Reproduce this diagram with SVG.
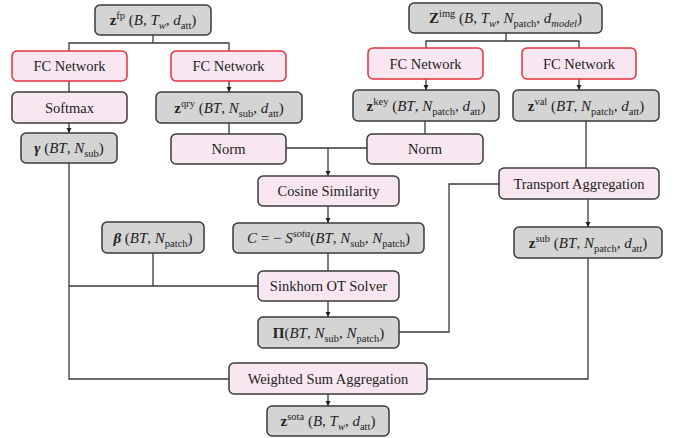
<svg xmlns="http://www.w3.org/2000/svg" width="678" height="438" viewBox="0 0 678 438">
<style>
.g{fill:#d4d4d4;stroke:#3a3a3a;stroke-width:1.5}
.p{fill:#f8e7f1;stroke:#3a3a3a;stroke-width:1.5}
.r{fill:#f8e7f1;stroke:#e8303a;stroke-width:1.5}
.c{fill:none;stroke:#3a3a3a;stroke-width:1.3}
</style>
<defs>
<marker id="ah" markerWidth="6" markerHeight="6" refX="5" refY="3" orient="auto" markerUnits="userSpaceOnUse">
<path d="M0,0.5 L5,3 L0,5.5 Z" fill="#222"/>
</marker>
</defs>
<g id="connectors">
<path class="c" d="M153 35 V43 M69 51 V43 H229 V51"/>
<path class="c" d="M69 81 V92"/>
<path class="c" d="M229 81 V92" marker-end="url(#ah)"/>
<path class="c" d="M69 123 V133" marker-end="url(#ah)"/>
<path class="c" d="M229 123 V134"/>
<path class="c" d="M506 33 V41 M426 48 V41 H579 V48"/>
<path class="c" d="M426 79 V90" marker-end="url(#ah)"/>
<path class="c" d="M579 79 V90" marker-end="url(#ah)"/>
<path class="c" d="M425 121 V134"/>
<path class="c" d="M286 148 H367"/>
<path class="c" d="M328 148 V176" marker-end="url(#ah)"/>
<path class="c" d="M586 121 V168"/>
<path class="c" d="M328 206 V223" marker-end="url(#ah)"/>
<path class="c" d="M328 253 V271"/>
<path class="c" d="M328 301 V317" marker-end="url(#ah)"/>
<path class="c" d="M153 253 V286 M69 286 H258"/>
<path class="c" d="M69 163 V379 H229"/>
<path class="c" d="M399 332 H449 V184 H499"/>
<path class="c" d="M588 199 V227" marker-end="url(#ah)"/>
<path class="c" d="M588 258 V379 H427"/>
<path class="c" d="M328 394 V406" marker-end="url(#ah)"/>
</g>
<g id="zfp">
<rect class="g" x="95" y="5" width="116" height="30" rx="5"/>
<text font-family="Liberation Serif, Times New Roman, serif" font-weight="400" font-size="15" fill="#222" text-anchor="middle" x="153" y="25"><tspan font-weight="bold">z</tspan><tspan font-size="10.5" dy="-6">fp</tspan><tspan dy="6"> (</tspan><tspan font-style="italic">B</tspan>, <tspan font-style="italic">T</tspan><tspan font-size="10.5" font-style="italic" dy="4">w</tspan><tspan dy="-4">, </tspan><tspan font-style="italic">d</tspan><tspan font-size="10.5" dy="4">att</tspan><tspan dy="-4">)</tspan></text>
</g>
<g id="zimg">
<rect class="g" x="409" y="3" width="193" height="30" rx="5"/>
<text font-family="Liberation Serif, Times New Roman, serif" font-weight="400" font-size="15" fill="#222" text-anchor="middle" x="505.5" y="23"><tspan font-weight="bold">Z</tspan><tspan font-size="10.5" dy="-6">img</tspan><tspan dy="6"> (</tspan><tspan font-style="italic">B</tspan>, <tspan font-style="italic">T</tspan><tspan font-size="10.5" font-style="italic" dy="4">w</tspan><tspan dy="-4">, </tspan><tspan font-style="italic">N</tspan><tspan font-size="10.5" dy="4">patch</tspan><tspan dy="-4">, </tspan><tspan font-style="italic">d</tspan><tspan font-size="10.5" font-style="italic" dy="4">model</tspan><tspan dy="-4">)</tspan></text>
</g>
<g id="fc1">
<rect class="r" x="12" y="51" width="115" height="30" rx="5"/>
<text font-family="Liberation Serif, Times New Roman, serif" font-weight="400" font-size="14.5" fill="#222" text-anchor="middle" x="69.5" y="71">FC Network</text>
</g>
<g id="fc2">
<rect class="r" x="171" y="51" width="115" height="30" rx="5"/>
<text font-family="Liberation Serif, Times New Roman, serif" font-weight="400" font-size="14.5" fill="#222" text-anchor="middle" x="228.5" y="71">FC Network</text>
</g>
<g id="fc3">
<rect class="r" x="368" y="48" width="115" height="31" rx="5"/>
<text font-family="Liberation Serif, Times New Roman, serif" font-weight="400" font-size="14.5" fill="#222" text-anchor="middle" x="425.5" y="68.5">FC Network</text>
</g>
<g id="fc4">
<rect class="r" x="522" y="48" width="114" height="31" rx="5"/>
<text font-family="Liberation Serif, Times New Roman, serif" font-weight="400" font-size="14.5" fill="#222" text-anchor="middle" x="579" y="68.5">FC Network</text>
</g>
<g id="softmax">
<rect class="p" x="12" y="92" width="115" height="31" rx="5"/>
<text font-family="Liberation Serif, Times New Roman, serif" font-weight="400" font-size="14.5" fill="#222" text-anchor="middle" x="69.5" y="112.5">Softmax</text>
</g>
<g id="zqry">
<rect class="g" x="156" y="92" width="146" height="31" rx="5"/>
<text font-family="Liberation Serif, Times New Roman, serif" font-weight="400" font-size="15" fill="#222" text-anchor="middle" x="229" y="112.5"><tspan font-weight="bold">z</tspan><tspan font-size="10.5" dy="-6">qry</tspan><tspan dy="6"> (</tspan><tspan font-style="italic">BT</tspan>, <tspan font-style="italic">N</tspan><tspan font-size="10.5" dy="4">sub</tspan><tspan dy="-4">, </tspan><tspan font-style="italic">d</tspan><tspan font-size="10.5" dy="4">att</tspan><tspan dy="-4">)</tspan></text>
</g>
<g id="zkey">
<rect class="g" x="353" y="90" width="146" height="31" rx="5"/>
<text font-family="Liberation Serif, Times New Roman, serif" font-weight="400" font-size="15" fill="#222" text-anchor="middle" x="426" y="110.5"><tspan font-weight="bold">z</tspan><tspan font-size="10.5" dy="-6">key</tspan><tspan dy="6"> (</tspan><tspan font-style="italic">BT</tspan>, <tspan font-style="italic">N</tspan><tspan font-size="10.5" dy="4">patch</tspan><tspan dy="-4">, </tspan><tspan font-style="italic">d</tspan><tspan font-size="10.5" dy="4">att</tspan><tspan dy="-4">)</tspan></text>
</g>
<g id="zval">
<rect class="g" x="513" y="90" width="146" height="31" rx="5"/>
<text font-family="Liberation Serif, Times New Roman, serif" font-weight="400" font-size="15" fill="#222" text-anchor="middle" x="586" y="110.5"><tspan font-weight="bold">z</tspan><tspan font-size="10.5" dy="-6">val</tspan><tspan dy="6"> (</tspan><tspan font-style="italic">BT</tspan>, <tspan font-style="italic">N</tspan><tspan font-size="10.5" dy="4">patch</tspan><tspan dy="-4">, </tspan><tspan font-style="italic">d</tspan><tspan font-size="10.5" dy="4">att</tspan><tspan dy="-4">)</tspan></text>
</g>
<g id="gamma">
<rect class="g" x="21" y="133" width="96" height="30" rx="5"/>
<text font-family="Liberation Serif, Times New Roman, serif" font-weight="400" font-size="15" fill="#222" text-anchor="middle" x="69" y="153"><tspan font-weight="bold" font-style="italic">γ</tspan>  (<tspan font-style="italic">BT</tspan>, <tspan font-style="italic">N</tspan><tspan font-size="10.5" dy="4">sub</tspan><tspan dy="-4">)</tspan></text>
</g>
<g id="norm1">
<rect class="p" x="171" y="134" width="115" height="30" rx="5"/>
<text font-family="Liberation Serif, Times New Roman, serif" font-weight="400" font-size="14.5" fill="#222" text-anchor="middle" x="228.5" y="154">Norm</text>
</g>
<g id="norm2">
<rect class="p" x="367" y="134" width="116" height="30" rx="5"/>
<text font-family="Liberation Serif, Times New Roman, serif" font-weight="400" font-size="14.5" fill="#222" text-anchor="middle" x="425" y="154">Norm</text>
</g>
<g id="transport">
<rect class="p" x="499" y="168" width="160" height="31" rx="5"/>
<text font-family="Liberation Serif, Times New Roman, serif" font-weight="400" font-size="14.5" fill="#222" text-anchor="middle" x="579" y="188.5">Transport Aggregation</text>
</g>
<g id="cosine">
<rect class="p" x="258" y="176" width="141" height="30" rx="5"/>
<text font-family="Liberation Serif, Times New Roman, serif" font-weight="400" font-size="14.5" fill="#222" text-anchor="middle" x="328.5" y="196">Cosine Similarity</text>
</g>
<g id="beta">
<rect class="g" x="102" y="222" width="102" height="31" rx="5"/>
<text font-family="Liberation Serif, Times New Roman, serif" font-weight="400" font-size="15" fill="#222" text-anchor="middle" x="153" y="242.5"><tspan font-weight="bold" font-style="italic">β</tspan> (<tspan font-style="italic">BT</tspan>, <tspan font-style="italic">N</tspan><tspan font-size="10.5" dy="4">patch</tspan><tspan dy="-4">)</tspan></text>
</g>
<g id="cost">
<rect class="g" x="233" y="223" width="191" height="30" rx="5"/>
<text font-family="Liberation Serif, Times New Roman, serif" font-weight="400" font-size="15" fill="#222" text-anchor="middle" x="328.5" y="243"><tspan font-style="italic">C</tspan> = − <tspan font-style="italic">S</tspan><tspan font-size="10.5" font-style="italic" dy="-6">sota</tspan><tspan dy="6">(</tspan><tspan font-style="italic">BT</tspan>, <tspan font-style="italic">N</tspan><tspan font-size="10.5" dy="4">sub</tspan><tspan dy="-4">, </tspan><tspan font-style="italic">N</tspan><tspan font-size="10.5" dy="4">patch</tspan><tspan dy="-4">)</tspan></text>
</g>
<g id="zsub">
<rect class="g" x="514" y="227" width="148" height="31" rx="5"/>
<text font-family="Liberation Serif, Times New Roman, serif" font-weight="400" font-size="15" fill="#222" text-anchor="middle" x="588" y="247.5"><tspan font-weight="bold">z</tspan><tspan font-size="10.5" dy="-6">sub</tspan><tspan dy="6"> (</tspan><tspan font-style="italic">BT</tspan>, <tspan font-style="italic">N</tspan><tspan font-size="10.5" dy="4">patch</tspan><tspan dy="-4">, </tspan><tspan font-style="italic">d</tspan><tspan font-size="10.5" dy="4">att</tspan><tspan dy="-4">)</tspan></text>
</g>
<g id="sinkhorn">
<rect class="p" x="258" y="271" width="141" height="30" rx="5"/>
<text font-family="Liberation Serif, Times New Roman, serif" font-weight="400" font-size="14.5" fill="#222" text-anchor="middle" x="328.5" y="291">Sinkhorn OT Solver</text>
</g>
<g id="pi">
<rect class="g" x="258" y="317" width="141" height="31" rx="5"/>
<text font-family="Liberation Serif, Times New Roman, serif" font-weight="400" font-size="15" fill="#222" text-anchor="middle" x="328.5" y="337.5"><tspan font-weight="bold">Π</tspan>(<tspan font-style="italic">BT</tspan>, <tspan font-style="italic">N</tspan><tspan font-size="10.5" dy="4">sub</tspan><tspan dy="-4">, </tspan><tspan font-style="italic">N</tspan><tspan font-size="10.5" dy="4">patch</tspan><tspan dy="-4">)</tspan></text>
</g>
<g id="weighted">
<rect class="p" x="229" y="363" width="198" height="31" rx="5"/>
<text font-family="Liberation Serif, Times New Roman, serif" font-weight="400" font-size="14.5" fill="#222" text-anchor="middle" x="328" y="383.5">Weighted Sum Aggregation</text>
</g>
<g id="zsota">
<rect class="g" x="267" y="406" width="122" height="30" rx="5"/>
<text font-family="Liberation Serif, Times New Roman, serif" font-weight="400" font-size="15" fill="#222" text-anchor="middle" x="328" y="426"><tspan font-weight="bold">z</tspan><tspan font-size="10.5" dy="-6">sota</tspan><tspan dy="6"> (</tspan><tspan font-style="italic">B</tspan>, <tspan font-style="italic">T</tspan><tspan font-size="10.5" font-style="italic" dy="4">w</tspan><tspan dy="-4">, </tspan><tspan font-style="italic">d</tspan><tspan font-size="10.5" dy="4">att</tspan><tspan dy="-4">)</tspan></text>
</g>
</svg>
